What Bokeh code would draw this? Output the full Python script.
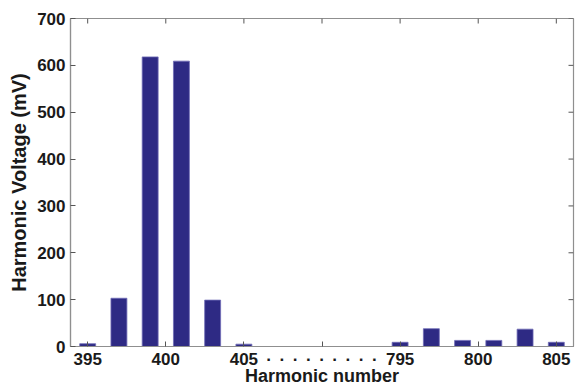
import math
from bokeh.plotting import figure
from bokeh.models import FixedTicker, ColumnDataSource, Range1d
from bokeh.embed import file_html
from bokeh.resources import INLINE

# Data
low_harmonics = [395, 397, 399, 401, 403, 405]
low_voltage = [6, 103, 618, 609, 99, 5]
high_harmonics = [795, 797, 799, 801, 803, 805]
high_voltage = [9, 38, 13, 13, 37, 9]
tick_positions = [395, 400, 405, 410, 415, 420, 425]
tick_labels = ["395", "400", "405", "\u00b7\u00a0\u2006" * 8 + "\u00b7", "795", "800", "805"]
y_ticks = [0, 100, 200, 300, 400, 500, 600, 700]
axis_break_offset = 380  # high group drawn at harmonic - 380 (broken axis)

xs = low_harmonics + [h - axis_break_offset for h in high_harmonics]
ys = low_voltage + high_voltage
src = ColumnDataSource(dict(x=xs, top=ys))

X0, X1 = 393.9, 426.1
Y0, Y1 = 0, 700

FONT = "Liberation Sans"
SPINE = "#8f8f8f"
TICK = "#555555"

p = figure(width=581, height=388, output_backend="svg", toolbar_location=None,
           x_range=Range1d(X0, X1), y_range=Range1d(Y0, Y1),
           min_border_left=70, min_border_right=8, min_border_top=18, min_border_bottom=42,
           x_axis_label="Harmonic number", y_axis_label="Harmonic Voltage (mV)")

p.vbar(x="x", top="top", width=1.02, bottom=0, source=src,
       fill_color="#2E2A84", line_color="#6f6bb5", line_width=0.8)

# inward ticks on the top and right edges of the box
p.ray(x=tick_positions, y=[Y1] * len(tick_positions), length=5, length_units="screen",
      angle=-math.pi / 2, line_color=TICK, line_width=1)
p.ray(x=[X1] * len(y_ticks), y=y_ticks, length=5, length_units="screen",
      angle=math.pi, line_color=TICK, line_width=1)

p.grid.visible = False
p.outline_line_color = SPINE
p.outline_line_width = 1.2
p.background_fill_color = "white"
p.border_fill_color = "white"

p.xaxis.ticker = FixedTicker(ticks=tick_positions)
p.xaxis.major_label_overrides = {t: l for t, l in zip(tick_positions, tick_labels)}
p.yaxis.ticker = FixedTicker(ticks=y_ticks)

for ax in [p.xaxis[0], p.yaxis[0]]:
    ax.axis_line_color = SPINE
    ax.axis_line_width = 1.2
    ax.major_tick_in = 5
    ax.major_tick_out = 0
    ax.major_tick_line_color = TICK
    ax.minor_tick_in = 0
    ax.minor_tick_out = 0
    ax.major_label_text_font = FONT
    ax.major_label_text_font_style = "bold"
    ax.major_label_text_font_size = "17px"
    ax.major_label_text_color = "#1a1a1a"
    ax.axis_label_text_font = FONT
    ax.axis_label_text_font_style = "bold"
    ax.axis_label_text_color = "#1a1a1a"

p.xaxis.axis_label_text_font_size = "18px"
p.yaxis.axis_label_text_font_size = "20px"
p.xaxis.major_label_standoff = 3
p.xaxis.axis_label_standoff = -6
p.yaxis.major_label_standoff = 5
p.yaxis.axis_label_standoff = 4

open("out.html", "w").write(file_html(p, INLINE))
